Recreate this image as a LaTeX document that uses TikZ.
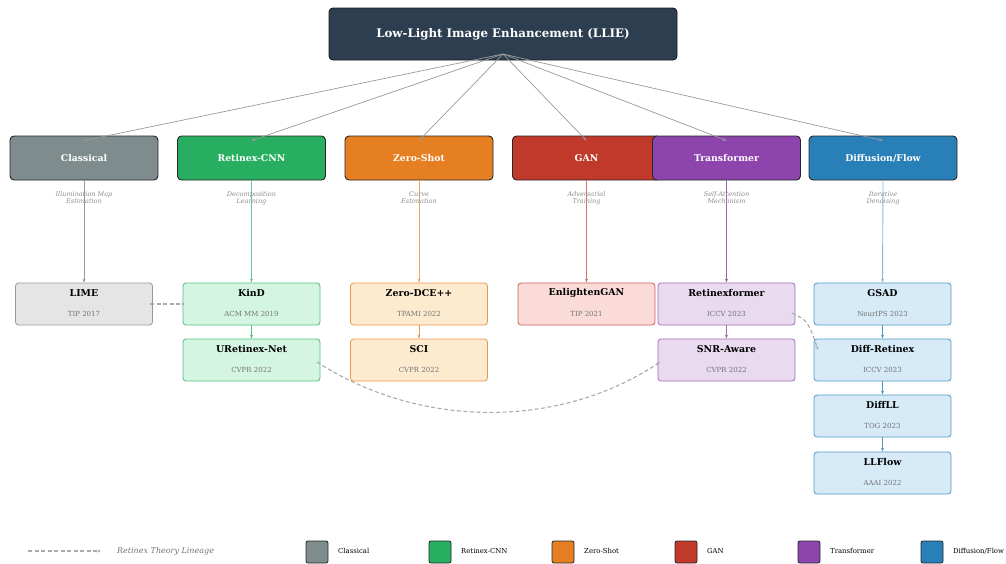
\documentclass[tikz,border=0pt]{standalone}
\usepackage{fontspec}
\setmainfont{DejaVu Serif}
\usetikzlibrary{arrows.meta}
\definecolor{cTop}{HTML}{2C3E50}
\definecolor{cCls}{HTML}{7F8C8D}
\definecolor{cRet}{HTML}{27AE60}
\definecolor{cZer}{HTML}{E67E22}
\definecolor{cGan}{HTML}{C0392B}
\definecolor{cTra}{HTML}{8E44AD}
\definecolor{cDif}{HTML}{2980B9}
\definecolor{fCls}{HTML}{E5E5E5}
\definecolor{fRet}{HTML}{D5F5E3}
\definecolor{fZer}{HTML}{FDEBD0}
\definecolor{fGan}{HTML}{FADBD8}
\definecolor{fTra}{HTML}{E8DAEF}
\definecolor{fDif}{HTML}{D6EAF8}
\definecolor{lgray}{HTML}{AAAAAA}
\begin{document}
\begin{tikzpicture}[x=1pt,y=-1pt,
  topbox/.style={draw=black!90, line width=0.9pt, rounded corners=4pt, fill=cTop,
    minimum width=348pt, minimum height=52pt, inner sep=0pt, text=white,
    font=\bfseries\fontsize{11.8}{14}\selectfont},
  cat/.style={draw=black!85, line width=0.9pt, rounded corners=4pt, fill=#1,
    minimum width=148pt, minimum height=44pt, inner sep=0pt, text=white,
    font=\bfseries\fontsize{9.3}{11}\selectfont},
  leaf/.style={draw=#1, line width=0.8pt, rounded corners=3pt,
    minimum width=137pt, minimum height=42pt, inner sep=0pt},
  leafname/.style={font=\bfseries\fontsize{9.4}{11}\selectfont, inner sep=0pt},
  leafvenue/.style={font=\fontsize{7}{8}\selectfont, text=black!55, inner sep=0pt},
  note/.style={font=\itshape\fontsize{6.5}{7}\selectfont, text=black!45, align=center, inner sep=0pt},
  fan/.style={draw=black!40, line width=0.7pt, -{Stealth[length=4pt,width=3pt]}},
  vline/.style={draw=#1, line width=0.9pt, -{Stealth[length=4pt,width=3pt]}},
  lineage/.style={draw=lgray, line width=1.1pt, dash pattern=on 4pt off 2.5pt, -{Stealth[length=4pt,width=3pt]}},
  legsq/.style={draw=black!85, line width=0.8pt, rounded corners=2pt, fill=#1, minimum width=22pt, minimum height=22pt, inner sep=0pt},
  legtxt/.style={font=\fontsize{6.9}{8}\selectfont, anchor=west, inner sep=0pt}
]
\useasboundingbox (0,0) rectangle (1006,563);

% top node
\node[topbox] (top) at (503,34) {Low-Light Image Enhancement (LLIE)};
\coordinate (fan0) at (503,54);

% categories
\node[cat=cCls] (cls) at (84,158) {Classical};
\node[cat=cRet] (ret) at (251.5,158) {Retinex-CNN};
\node[cat=cZer] (zer) at (419,158) {Zero-Shot};
\node[cat=cGan] (gan) at (586.5,158) {GAN};
\node[cat=cTra] (tra) at (726.5,158) {Transformer};
\node[cat=cDif] (dif) at (883,158) {Diffusion/Flow};

\foreach \c in {cls,ret,zer,gan,tra,dif}{
  \draw[fan] (fan0) -- ([yshift=-5pt]\c.north);
}

% leaves
\newcommand\leafnode[7]{%
  \node[leaf=#6, fill=#7] (#1) at (#2,#3) {};
  \node[leafname] (#1-t) at ([yshift=-10.5pt]#1.north) {#4};
  \node[leafvenue] (#1-v) at ([yshift=-31pt]#1.north) {#5};}

\leafnode{lime}{84}{304}{LIME}{TIP 2017}{black!40}{fCls}
\leafnode{kind}{251.5}{304}{KinD}{ACM MM 2019}{cRet!80}{fRet}
\leafnode{uret}{251.5}{360}{URetinex-Net}{CVPR 2022}{cRet!80}{fRet}
\leafnode{zdce}{419}{304}{Zero-DCE++}{TPAMI 2022}{cZer!80}{fZer}
\leafnode{sci}{419}{360}{SCI}{CVPR 2022}{cZer!80}{fZer}
\leafnode{egan}{586.5}{304}{EnlightenGAN}{TIP 2021}{cGan!80}{fGan}
\leafnode{rfor}{726.5}{304}{Retinexformer}{ICCV 2023}{cTra!80}{fTra}
\leafnode{snr}{726.5}{360}{SNR-Aware}{CVPR 2022}{cTra!80}{fTra}
\leafnode{gsad}{882.5}{304}{GSAD}{NeurIPS 2023}{cDif!80}{fDif}
\leafnode{dret}{882.5}{360}{Diff-Retinex}{ICCV 2023}{cDif!80}{fDif}
\leafnode{dll}{882.5}{416}{DiffLL}{TOG 2023}{cDif!80}{fDif}
\leafnode{llf}{882.5}{473}{LLFlow}{AAAI 2022}{cDif!80}{fDif}

% category -> first leaf
\draw[vline=black!40] (cls.south) -- (lime.north);
\draw[vline=cRet!70] (ret.south) -- (kind.north);
\draw[vline=cZer!70] (zer.south) -- (zdce.north);
\draw[vline=cGan!70] (gan.south) -- (egan.north);
\draw[vline=cTra!85] (tra.south) -- (rfor.north);
\draw[vline=cDif!55] (dif.south) -- (gsad.north);

% annotations
\node[note] (n1) at (84,198) {Illumination Map\\Estimation};
\node[note] (n2) at (251.5,198) {Decomposition\\Learning};
\node[note] (n3) at (419,198) {Curve\\Estimation};
\node[note] (n4) at (586.5,198) {Adversarial\\Training};
\node[note] (n5) at (726.5,198) {Self-Attention\\Mechanism};
\node[note] (n6) at (883,198) {Iterative\\Denoising};

% chains
\draw[vline=cRet!80] (kind.south) -- (uret.north);
\draw[vline=cZer!80] (zdce.south) -- (sci.north);
\draw[vline=cTra!80] (rfor.south) -- (snr.north);
\draw[vline=cDif!80] (gsad.south) -- (dret.north);
\draw[vline=cDif!80] (dret.south) -- (dll.north);
\draw[vline=cDif!80] (dll.south) -- (llf.north);

% lineage
\coordinate (l1) at (150,304);
\coordinate (l2) at (185,304);
\draw[lineage] (l1) -- (l2);
\coordinate (u1) at (317,362);
\coordinate (u2) at (660,362);
\draw[lineage] (u1) .. controls (420,429) and (560,429) .. (u2);
\coordinate (r1) at (792,313);
\coordinate (r2) at (818,350);
\draw[lineage] (r1) .. controls (808,321) .. (r2);

% legend
\coordinate (lg1) at (28,551);
\coordinate (lg2) at (101,551);
\draw[lineage] (lg1) -- (lg2);
\node[legtxt, font=\itshape\fontsize{8}{9}\selectfont, text=black!55] (lgt) at (117,551) {Retinex Theory Lineage};
\node[legsq=cCls] (s1) at (317,552) {}; \node[legtxt] (t1) at (338,551) {Classical};
\node[legsq=cRet] (s2) at (440,552) {}; \node[legtxt] (t2) at (461,551) {Retinex-CNN};
\node[legsq=cZer] (s3) at (563,552) {}; \node[legtxt] (t3) at (584,551) {Zero-Shot};
\node[legsq=cGan] (s4) at (686,552) {}; \node[legtxt] (t4) at (707,551) {GAN};
\node[legsq=cTra] (s5) at (809,552) {}; \node[legtxt] (t5) at (830,551) {Transformer};
\node[legsq=cDif] (s6) at (932,552) {}; \node[legtxt] (t6) at (953,551) {Diffusion/Flow};
\end{tikzpicture}
\end{document}
